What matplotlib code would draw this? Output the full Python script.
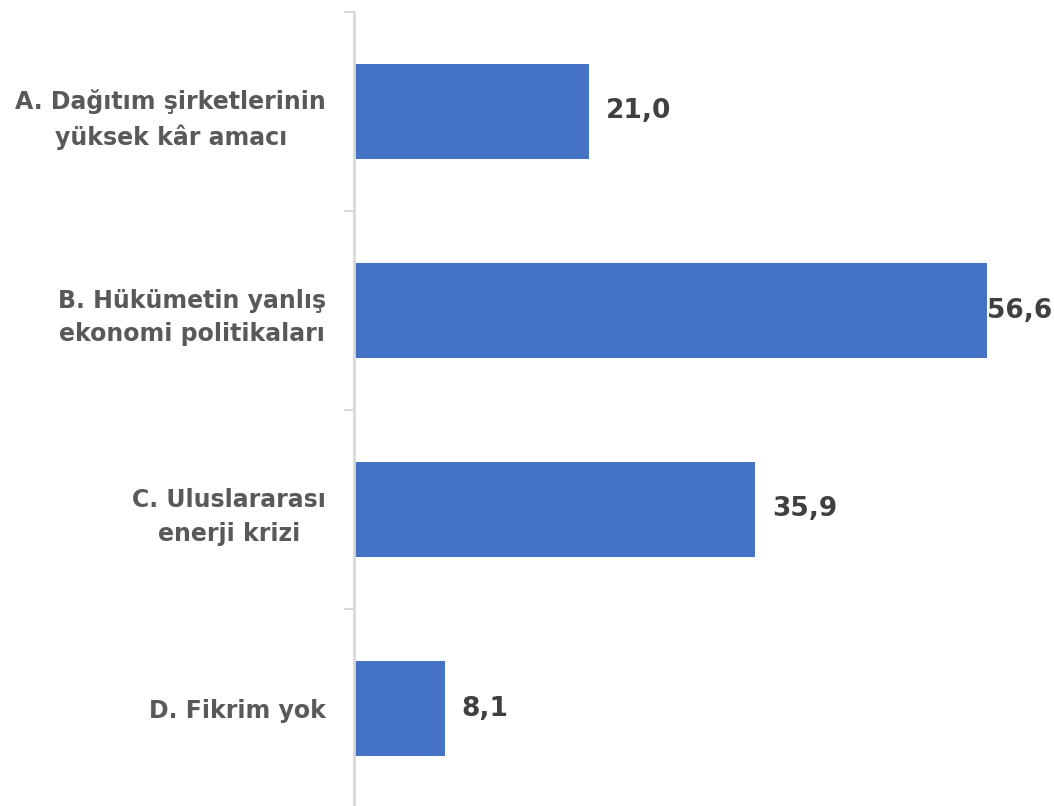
import matplotlib.pyplot as plt

# Kategoriat ja arvot (ylhäältä alas)
kategoriat = ["A. Dağıtım şirketlerinin\nyüksek kâr amacı",
              "B. Hükümetin yanlış\nekonomi politikaları",
              "C. Uluslararası\nenerji krizi",
              "D. Fikrim yok"]
arvot = [21.0, 56.6, 35.9, 8.1]

plt.rcParams['font.family'] = ['DejaVu Sans']

fig = plt.figure(figsize=(10.54, 8.06), dpi=100)
# akseli: vasen reuna x=354px, ylä y=12px, ala ~808px
ax = fig.add_axes([354 / 1054, (806 - 808) / 806, (1054 - 354) / 1054, 796 / 806])

y = list(range(len(arvot)))
ax.barh(y, arvot, height=0.48, color='#4472C4')
ax.set_ylim(len(arvot) - 0.5, -0.5)
ax.set_xlim(0, 700 / 11.18)

ax.set_yticks(y)
ax.set_yticklabels(kategoriat, fontsize=17, fontweight='bold', color='#595959',
                   linespacing=1.5, ha='right', multialignment='center')
ax.set_yticks([i - 0.5 for i in range(len(arvot) + 1)], minor=True)
ax.tick_params(axis='y', which='major', length=0, pad=20)
ax.tick_params(axis='y', which='minor', length=7, width=1.5, color='#D9D9D9')
ax.set_xticks([])

for s in ['top', 'right', 'bottom']:
    ax.spines[s].set_visible(False)
ax.spines['left'].set_color('#D9D9D9')
ax.spines['left'].set_linewidth(2)

for yi, v in zip(y, arvot):
    offset = 0 if v == max(arvot) else 12
    ax.annotate(f"{v:.1f}".replace('.', ','), (v, yi), xytext=(offset, 0),
                textcoords='offset points', va='center', ha='left',
                fontsize=19, fontweight='bold', color='#404040')

fig.savefig("out.png", dpi=100)
